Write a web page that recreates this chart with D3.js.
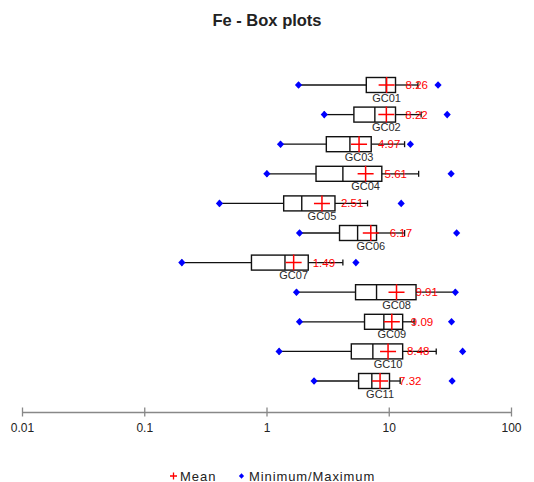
<!DOCTYPE html>
<html>
<head>
<meta charset="utf-8">
<script src="https://cdn.jsdelivr.net/npm/d3@7"></script>
<style>
  html, body { margin: 0; padding: 0; background: #fff; }
  text { font-family: "Liberation Sans", Arial, sans-serif; }
</style>
</head>
<body>
<svg id="chart" width="534" height="482"></svg>
<script>
const categories = ["GC01","GC02","GC03","GC04","GC05","GC06","GC07","GC08","GC09","GC10","GC11"];
const minimum    = [1.63, 2.62, 1.17, 0.91, 0.38, 1.66, 0.19, 1.57, 1.66, 1.14, 2.17];
const lowerWhisk = [1.63, 2.62, 1.17, 0.91, 0.38, 1.66, 0.19, 1.57, 1.66, 1.14, 2.17];
const q1         = [5.68, 4.52, 2.72, 2.25, 1.24, 3.47, 0.685, 4.66, 5.50, 4.31, 4.93];
const median     = [8.20, 6.65, 4.20, 3.69, 1.73, 4.84, 1.27, 6.86, 7.85, 6.41, 6.29];
const q3         = [9.73, 9.73, 6.22, 7.56, 3.19, 6.86, 1.95, 14.2, 11.1, 11.1, 8.71];
const upperWhisk = [14.7, 15.6, 11.5, 14.9, 5.81, 11.5, 3.69, 29.3, 13.7, 20.6, 10.6];
const maximum    = [21.3, 25.2, 12.8, 27.1, 10.8, 30.0, 4.69, 29.3, 27.3, 33.5, 27.6];
const mean       = [8.26, 8.22, 4.97, 5.61, 2.51, 6.17, 1.49, 9.91, 9.09, 8.48, 7.32];
const tickValues = [0.01, 0.1, 1, 10, 100];
const tickLabels = ["0.01", "0.1", "1", "10", "100"];

const svg = d3.select("#chart");

// scale used for the marks, and the scale used for the drawn axis
const x = d3.scaleLog().domain([0.01, 100]).range([22, 522]);
const xAxisScale = d3.scaleLog().domain([0.01, 100]).range([22, 511]);
const y = d3.scalePoint().domain(categories).range([85, 381]);

const boxH = 15;
const red = "#ff0000", blue = "#0000ff";
const diamondPath = (hw, hh) => `M0,${-hh}L${hw},0L0,${hh}L${-hw},0Z`;

// title
svg.append("text")
  .attr("x", 267).attr("y", 26)
  .attr("text-anchor", "middle")
  .attr("font-weight", "bold")
  .attr("font-size", 16.5)
  .attr("fill", "#222")
  .text("Fe - Box plots");

const rows = categories.map((c, i) => ({
  c, min: minimum[i], lw: lowerWhisk[i], q1: q1[i], med: median[i], q3: q3[i],
  uw: upperWhisk[i], max: maximum[i], mean: mean[i]
}));

const g = svg.append("g");
const row = g.selectAll("g.row").data(rows).join("g").attr("class", "row")
  .attr("transform", d => `translate(0,${y(d.c)})`);

// whiskers
row.append("line")
  .attr("x1", d => x(d.lw)).attr("x2", d => x(d.q1))
  .attr("y1", 0).attr("y2", 0).attr("stroke", "#111").attr("stroke-width", 1.3);
row.append("line")
  .attr("x1", d => x(d.q3)).attr("x2", d => x(d.uw))
  .attr("y1", 0).attr("y2", 0).attr("stroke", "#111").attr("stroke-width", 1.3);
row.append("line")
  .attr("x1", d => x(d.uw)).attr("x2", d => x(d.uw))
  .attr("y1", -3).attr("y2", 3).attr("stroke", "#111").attr("stroke-width", 1.3);
row.append("line")
  .attr("x1", d => x(d.lw)).attr("x2", d => x(d.lw))
  .attr("y1", -3).attr("y2", 3).attr("stroke", "#111").attr("stroke-width", 1.3);

// box
row.append("rect")
  .attr("x", d => x(d.q1)).attr("width", d => x(d.q3) - x(d.q1))
  .attr("y", -boxH / 2).attr("height", boxH)
  .attr("fill", "#fff").attr("stroke", "#111").attr("stroke-width", 1.4);
row.append("line")
  .attr("x1", d => x(d.med)).attr("x2", d => x(d.med))
  .attr("y1", -boxH / 2).attr("y2", boxH / 2)
  .attr("stroke", "#111").attr("stroke-width", 1.4);

// min / max diamonds
["min", "max"].forEach(k => {
  row.append("path")
    .attr("d", diamondPath(3.6, 3.8))
    .attr("transform", d => `translate(${x(d[k])},0)`)
    .attr("fill", blue);
});

// mean cross
row.append("path")
  .attr("d", d => `M${x(d.mean) - 8},0H${x(d.mean) + 8}M${x(d.mean)},-8V8`)
  .attr("stroke", red).attr("stroke-width", 1.5).attr("fill", "none");

// mean labels
row.append("text")
  .attr("x", d => x(d.mean) + 19).attr("y", 4)
  .attr("font-size", 11.5).attr("fill", red)
  .text(d => d.mean.toFixed(2));

// category labels
row.append("text")
  .attr("x", d => x(d.mean)).attr("y", 16.5)
  .attr("text-anchor", "middle")
  .attr("font-size", 11).attr("fill", "#2a2a2a")
  .text(d => d.c);

// axis
const axis = d3.axisBottom(xAxisScale)
  .tickValues(tickValues)
  .tickFormat((d, i) => tickLabels[i])
  .tickSize(4.5).tickSizeOuter(0).tickPadding(7);
const ax = svg.append("g").attr("transform", "translate(0,412)").call(axis);
ax.select(".domain").attr("stroke", "#888").attr("stroke-width", 1.3);
ax.selectAll(".tick line").attr("stroke", "#888").attr("stroke-width", 1.3).attr("y1", -4.5);
ax.selectAll(".tick text").attr("font-size", 12).attr("fill", "#222")
  .attr("font-family", "Liberation Sans, Arial, sans-serif");

// legend
const leg = svg.append("g").attr("transform", "translate(0,476)");
leg.append("path").attr("d", "M170,0H177M173.5,-3.5V3.5")
  .attr("stroke", red).attr("stroke-width", 1.3);
leg.append("text").attr("x", 180).attr("y", 4.5).attr("font-size", 13).attr("fill", "#222")
  .attr("letter-spacing", 1).text("Mean");
leg.append("path").attr("d", diamondPath(2.6, 2.8))
  .attr("transform", "translate(241.5,0)").attr("fill", blue);
leg.append("text").attr("x", 249).attr("y", 4.5).attr("font-size", 13).attr("fill", "#222")
  .attr("letter-spacing", 0.9).text("Minimum/Maximum");
</script>
</body>
</html>
